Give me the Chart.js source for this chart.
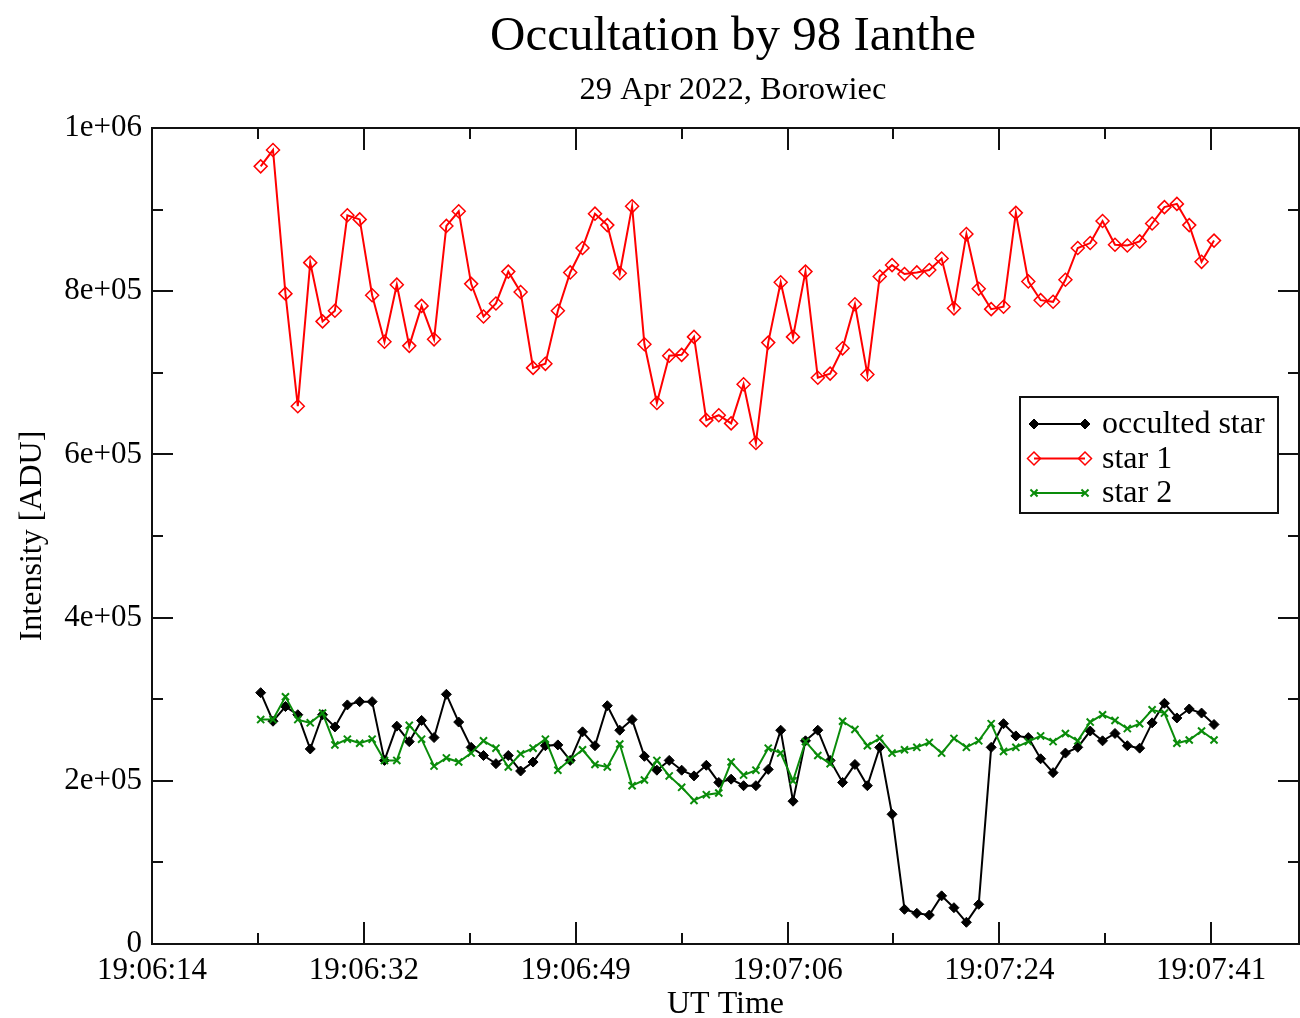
<!DOCTYPE html>
<html>
<head>
<meta charset="utf-8">
<script src="https://cdn.jsdelivr.net/npm/chart.js@4.4.1/dist/chart.umd.min.js"></script>
<style>
  html, body { margin: 0; padding: 0; background: #fff; }
  canvas { display: block; }
</style>
</head>
<body>
<canvas id="c" width="1300" height="1018"></canvas>
<script>
// time of each frame, seconds after 19:06:00 UT
const times = [23.20,24.21,25.23,26.24,27.26,28.27,29.28,30.30,31.31,32.33,33.34,34.35,35.37,36.38,37.40,38.41,39.42,40.44,41.45,42.47,
  43.48,44.49,45.51,46.52,47.54,48.55,49.56,50.58,51.59,52.61,53.62,54.63,55.65,56.66,57.68,58.69,59.70,60.72,61.73,62.75,
  63.76,64.77,65.79,66.80,67.82,68.83,69.84,70.86,71.87,72.89,73.90,74.91,75.93,76.94,77.96,78.97,79.98,81.00,82.01,83.03,
  84.04,85.05,86.07,87.08,88.10,89.11,90.12,91.14,92.15,93.17,94.18,95.19,96.21,97.22,98.24,99.25,100.26,101.28];

const occulted = [308000,273000,291000,281000,239000,281000,266000,293000,297000,297000,225000,267000,248000,274000,253000,306000,272000,241000,231000,221000,231000,212000,
  223000,243000,244000,225000,260000,243000,292000,262000,275000,230000,213000,225000,213000,206000,219000,198000,202000,194000,194000,214000,262000,
  175000,249000,262000,225000,198000,220000,194000,241000,159000,42500,37600,35500,59000,44500,26600,48600,241000,270000,255000,
  253000,227000,210000,234000,241000,261000,249000,258000,243000,240000,271000,295000,277000,288000,283000,269000];

const star1 = [953000,973000,797000,659000,835000,763000,776000,893000,888000,795000,738000,808000,733000,782000,741000,880000,898000,809000,769000,785000,824000,799000,
  706000,711000,776000,823000,853000,895000,881000,822000,904000,735000,663000,721000,722000,744000,642000,648000,638000,686000,614000,737000,811000,
  744000,824000,694000,699000,730000,784000,698000,818000,832000,821000,823000,826000,840000,779000,870000,803000,778000,781000,896000,812000,789000,
  787000,814000,853000,859000,886000,857000,856000,861000,883000,903000,907000,881000,836000,862000];

const star2 = [275000,275000,303000,275000,271000,283000,244000,251000,246000,251000,225000,225000,268000,251000,218000,228000,223000,234000,249000,240000,217000,233000,
  240000,251000,213000,226000,238000,220000,217000,245000,194000,201000,225000,206000,192000,176000,183000,185000,223000,207000,213000,240000,234000,
  200000,248000,231000,221000,273000,263000,243000,252000,234000,238000,241000,247000,234000,252000,241000,249000,270000,236000,241000,
  248000,255000,248000,258000,249000,272000,281000,274000,264000,270000,287000,283000,246000,250000,261000,250000];

const xTickVals = [14.3, 31.65, 49.0, 66.35, 83.7, 101.05];
const xTickLabels = ['19:06:14', '19:06:32', '19:06:49', '19:07:06', '19:07:24', '19:07:41'];
const yTickVals = [0, 200000, 400000, 600000, 800000, 1000000];
const yTickLabels = ['0', '2e+05', '4e+05', '6e+05', '8e+05', '1e+06'];

const titleText = 'Occultation by 98 Ianthe';
const subtitleText = '29 Apr 2022, Borowiec';

const FONT = "'Liberation Serif', 'Times New Roman', serif";

function pts(vals) {
  return vals.map((v, i) => ({ x: times[i], y: v }));
}

// draws one legend marker the same way the datasets show it
function marker(ctx, ds, x, y) {
  const r = ds.pointRadius;
  ctx.save();
  ctx.strokeStyle = ds.pointBorderColor;
  ctx.fillStyle = ds.pointBackgroundColor;
  ctx.lineWidth = ds.pointBorderWidth;
  ctx.beginPath();
  if (ds.pointStyle === 'rectRot') {
    ctx.moveTo(x, y - r); ctx.lineTo(x + r, y); ctx.lineTo(x, y + r); ctx.lineTo(x - r, y); ctx.closePath();
    ctx.fill(); ctx.stroke();
  } else {
    const d = r * 0.707;
    ctx.moveTo(x - d, y - d); ctx.lineTo(x + d, y + d);
    ctx.moveTo(x + d, y - d); ctx.lineTo(x - d, y + d);
    ctx.stroke();
  }
  ctx.restore();
}

const frame = {
  id: 'frame',
  beforeDraw(chart) {
    const ctx = chart.ctx;
    ctx.save();
    ctx.fillStyle = '#000';
    ctx.textAlign = 'center';
    ctx.textBaseline = 'alphabetic';
    ctx.font = '49px ' + FONT;
    ctx.fillText(titleText, 733, 50);
    ctx.font = '32.5px ' + FONT;
    ctx.fillText(subtitleText, 733, 99);
    ctx.restore();
  },
  afterDraw(chart) {
    const { ctx, chartArea: a, scales } = chart;
    const x = scales.x, y = scales.y;
    ctx.save();
    ctx.strokeStyle = '#111';
    ctx.lineWidth = 2;
    ctx.strokeRect(a.left, a.top, a.right - a.left, a.bottom - a.top);
    ctx.beginPath();
    const xMinor = [];
    for (let i = 0; i < xTickVals.length - 1; i++) xMinor.push((xTickVals[i] + xTickVals[i + 1]) / 2);
    xMinor.push(xTickVals[xTickVals.length - 1] + (xTickVals[1] - xTickVals[0]) / 2);
    const xt = (v, len) => {
      if (v > x.max) return;
      const p = Math.round(x.getPixelForValue(v));
      ctx.moveTo(p, a.bottom); ctx.lineTo(p, a.bottom - len);
      ctx.moveTo(p, a.top); ctx.lineTo(p, a.top + len);
    };
    xTickVals.forEach(v => xt(v, 22));
    xMinor.forEach(v => xt(v, 11));
    const yt = (v, len) => {
      const p = Math.round(y.getPixelForValue(v));
      ctx.moveTo(a.left, p); ctx.lineTo(a.left + len, p);
      ctx.moveTo(a.right, p); ctx.lineTo(a.right - len, p);
    };
    yTickVals.forEach(v => yt(v, 21));
    for (let i = 0; i < yTickVals.length - 1; i++) yt((yTickVals[i] + yTickVals[i + 1]) / 2, 11);
    ctx.stroke();

    // legend box
    const bx = 1020, by = 397, bw = 258, bh = 116;
    ctx.fillStyle = '#fff';
    ctx.fillRect(bx, by, bw, bh);
    ctx.strokeStyle = '#111';
    ctx.lineWidth = 2;
    ctx.strokeRect(bx, by, bw, bh);
    ctx.font = '32px ' + FONT;
    ctx.textBaseline = 'middle';
    ctx.textAlign = 'left';
    chart.data.datasets.forEach((ds, i) => {
      const ry = by + 27 + i * 34.5;
      ctx.strokeStyle = ds.borderColor;
      ctx.lineWidth = 2;
      ctx.beginPath();
      ctx.moveTo(bx + 14, ry); ctx.lineTo(bx + 65, ry);
      ctx.stroke();
      marker(ctx, ds, bx + 14, ry);
      marker(ctx, ds, bx + 65, ry);
      ctx.fillStyle = '#000';
      ctx.fillText(ds.label, bx + 82, ry + 1);
    });
    ctx.restore();
  }
};

new Chart(document.getElementById('c'), {
  type: 'line',
  data: {
    datasets: [
      { label: 'occulted star', data: pts(occulted), borderColor: '#000', borderWidth: 2,
        pointStyle: 'rectRot', pointRadius: 5, pointBackgroundColor: '#000', pointBorderColor: '#000', pointBorderWidth: 1, order: 2 },
      { label: 'star 1', data: pts(star1), borderColor: '#ff0000', borderWidth: 2,
        pointStyle: 'rectRot', pointRadius: 6.5, pointBackgroundColor: 'rgba(0,0,0,0)', pointBorderColor: '#ff0000', pointBorderWidth: 1.5, order: 1 },
      { label: 'star 2', data: pts(star2), borderColor: '#0a8c0a', borderWidth: 2,
        pointStyle: 'crossRot', pointRadius: 5, pointBackgroundColor: '#0a8c0a', pointBorderColor: '#0a8c0a', pointBorderWidth: 2, order: 0 }
    ]
  },
  options: {
    responsive: false,
    animation: false,
    layout: { autoPadding: false, padding: { left: 0, right: 1, top: 128, bottom: 0 } },
    plugins: {
      legend: { display: false },
      tooltip: { enabled: false },
      title: { display: false },
      subtitle: { display: false }
    },
    scales: {
      x: {
        type: 'linear', min: 14.3, max: 108.24,
        grid: { display: false, drawTicks: false }, border: { display: false },
        afterBuildTicks: s => { s.ticks = xTickVals.map(v => ({ value: v })); },
        afterFit: s => { s.height = 74; s.paddingLeft = 0; s.paddingRight = 0; },
        ticks: { autoSkip: false, maxRotation: 0, padding: 8, color: '#000',
          font: { family: FONT, size: 31 }, callback: (v, i) => xTickLabels[i] },
        title: { display: true, text: 'UT Time', color: '#000',
          font: { family: FONT, size: 32, lineHeight: 0.85 }, padding: { top: 0, bottom: 0 } }
      },
      y: {
        min: 0, max: 1000000,
        grid: { display: false, drawTicks: false }, border: { display: false },
        afterBuildTicks: s => { s.ticks = yTickVals.map(v => ({ value: v })); },
        afterFit: s => { s.width = 152; s.paddingTop = 0; s.paddingBottom = 0; },
        ticks: { padding: 10, color: '#000', font: { family: FONT, size: 31 }, callback: (v, i) => yTickLabels[i] },
        title: { display: true, text: 'Intensity [ADU]', color: '#000',
          font: { family: FONT, size: 32 }, padding: { top: 13, bottom: 0 } }
      }
    }
  },
  plugins: [frame]
});
</script>
</body>
</html>
